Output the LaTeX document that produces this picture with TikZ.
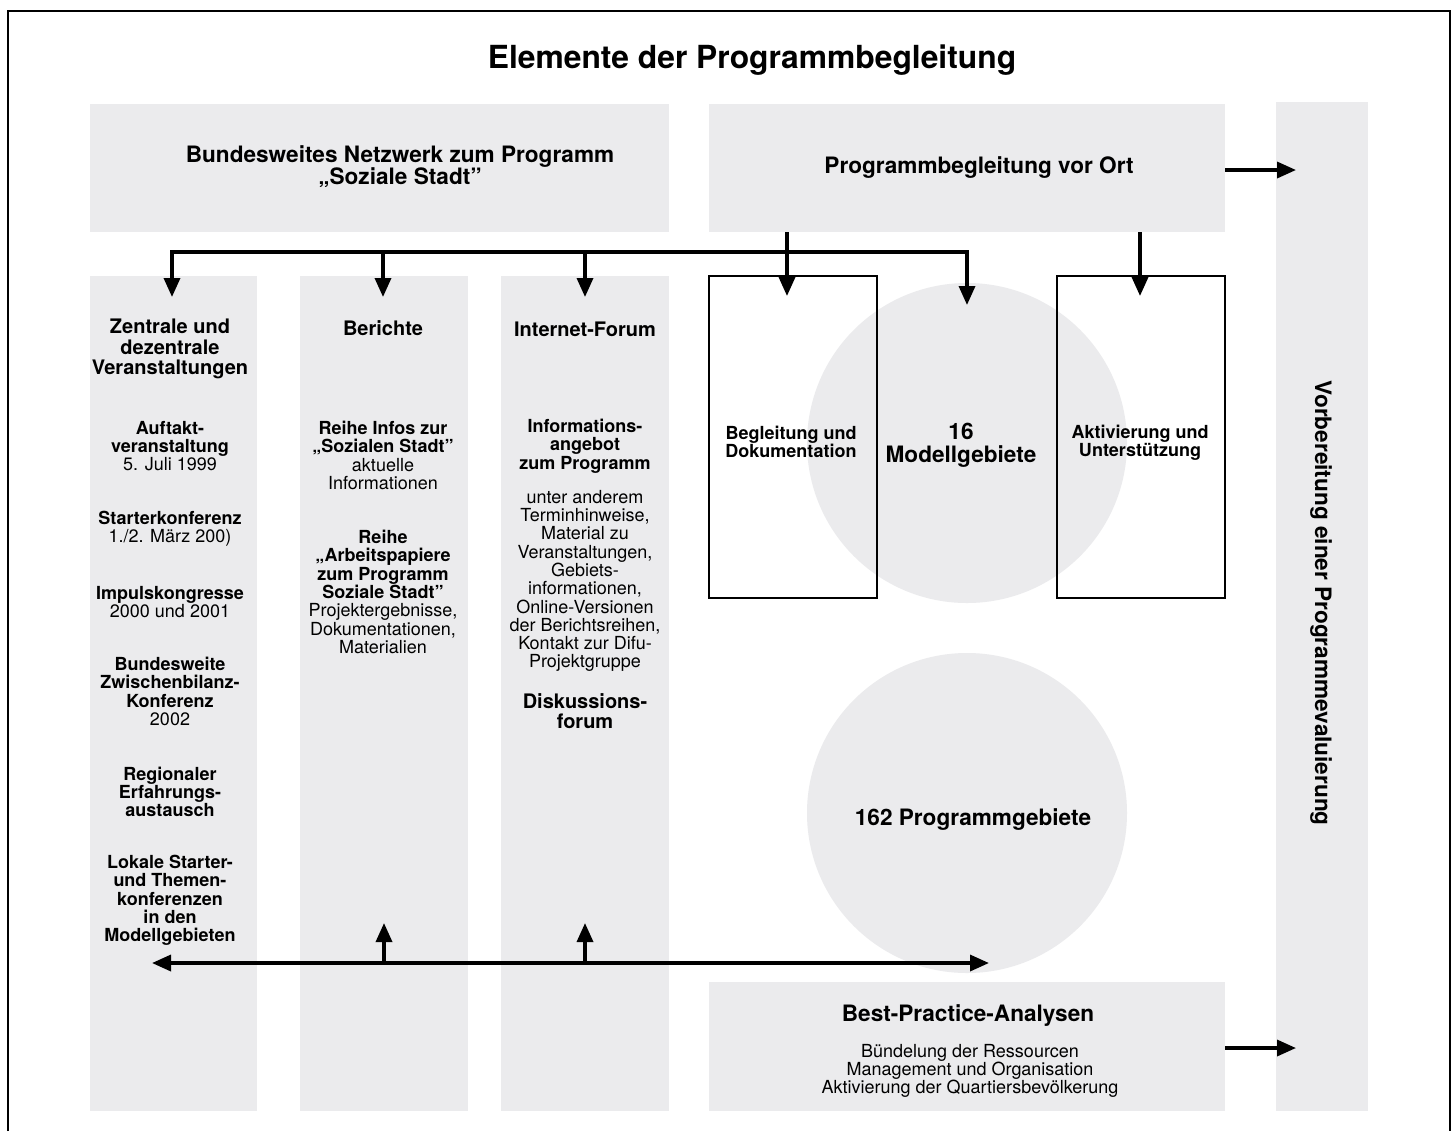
\documentclass[tikz,border=0pt]{standalone}
\usepackage{fontspec}
\setmainfont{TeX Gyre Heros}
\usetikzlibrary{arrows.meta}
\definecolor{hellgrau}{HTML}{EBEBED}
\tikzset{
	grau/.style={fill=hellgrau, inner sep=0pt, outer sep=0pt},
	rahmen/.style={draw=black, line width=1pt, inner sep=0pt, outer sep=0pt},
	titel/.style={font=\bfseries\fontsize{15.9}{18}\selectfont},
	gross/.style={font=\bfseries\fontsize{11.3}{11}\selectfont, align=center, inner sep=0pt},
	kopf/.style={font=\bfseries\fontsize{10}{10.25}\selectfont, align=center, inner sep=0pt},
	fett/.style={font=\bfseries\fontsize{9}{9.15}\selectfont, align=center, inner sep=0pt},
	normal/.style={font=\fontsize{9}{9.15}\selectfont, align=center, inner sep=0pt},
	pfeil/.style={line width=1.7pt, -{Triangle[length=9.5pt,width=8pt]}},
	doppelpfeil/.style={line width=1.7pt, {Triangle[length=9.5pt,width=8pt]}-{Triangle[length=9.5pt,width=8pt]}}
}

\begin{document}
\begin{tikzpicture}[x=0.5pt, y=-0.5pt]
			%%%%% START %%%%%
			
			\fill[white] (0, 0) rectangle (1455, 1131);
			\useasboundingbox (0, 0) rectangle (1455, 1131);
			\draw[line width=1.2pt] (8, 1131) -- (8, 11) -- (1450, 11) -- (1450, 1131);
			
			\node[titel] (titel) at (752, 60) {Elemente der Programmbegleitung};
			
			% obere Kaesten
			\node[grau, minimum width=289.5pt, minimum height=64pt] (netz) at (379.5, 168) {};
			\node[gross] (netz-text) at (400, 166.5) {Bundesweites Netzwerk zum Programm\\„Soziale Stadt”};
			\node[grau, minimum width=258pt, minimum height=64pt] (ort) at (967, 168) {};
			\node[gross] (ort-text) at (979, 168) {Programmbegleitung vor Ort};
			
			\node[grau, minimum width=46pt, minimum height=504.5pt] (eval) at (1322, 606.5) {};
			\node[gross, rotate=-90] (eval-text) at (1321, 603) {Vorbereitung einer Programmevaluierung};
			
			% Spalten
			\node[grau, minimum width=83.5pt, minimum height=417.5pt] (spalte1) at (173.5, 693.5) {};
			\node[grau, minimum width=84pt, minimum height=417.5pt] (spalte2) at (384, 693.5) {};
			\node[grau, minimum width=84pt, minimum height=417.5pt] (spalte3) at (585, 693.5) {};
			
			\node[kopf] (veranst) at (170, 349) {Zentrale und\\dezentrale\\Veranstaltungen};
			\node[fett] (auftakt) at (170, 446) {Auftakt-\\veranstaltung\\\textmd{5. Juli 1999}};
			\node[fett] (starter) at (170, 529) {Starterkonferenz\\\textmd{1./2. März 200)}};
			\node[fett] (impuls) at (170, 602) {Impulskongresse\\\textmd{2000 und 2001}};
			\node[fett] (bilanz) at (170, 691.5) {Bundesweite\\Zwischenbilanz-\\Konferenz\\\textmd{2002}};
			\node[fett] (regional) at (170, 792) {Regionaler\\Erfahrungs-\\austausch};
			\node[fett] (lokal) at (170, 900.5) {Lokale Starter-\\und Themen-\\konferenzen\\in den\\Modellgebieten};
			
			\node[kopf] (berichte) at (383, 328) {Berichte};
			\node[fett] (infos) at (383, 455.5) {Reihe Infos zur\\„Sozialen Stadt”\\\textmd{aktuelle}\\\textmd{Informationen}};
			\node[fett] (papiere) at (383, 592) {Reihe\\„Arbeitspapiere\\zum Programm\\Soziale Stadt”\\\textmd{Projektergebnisse,}\\\textmd{Dokumentationen,}\\\textmd{Materialien}};
			
			\node[kopf] (forum) at (585, 329) {Internet-Forum};
			\node[fett] (angebot) at (585, 446) {Informations-\\angebot\\zum Programm};
			\node[normal] (inhalte) at (585, 581) {unter anderem\\Terminhinweise,\\Material zu\\Veranstaltungen,\\Gebiets-\\informationen,\\Online-Versionen\\der Berichtsreihen,\\Kontakt zur Difu-\\Projektgruppe};
			\node[kopf, font=\bfseries\fontsize{10}{10}\selectfont] (diskussion) at (585, 711.5) {Diskussions-\\forum};
			
			% Modellgebiete
			\node[grau, circle, minimum size=160pt] (modell) at (967, 443) {};
			\node[rahmen, minimum width=84pt, minimum height=161pt] (begl) at (793, 437) {};
			\node[rahmen, minimum width=84pt, minimum height=161pt] (aktiv) at (1141, 437) {};
			\node[fett, font=\bfseries\fontsize{9}{9}\selectfont] (begl-text) at (791, 442) {Begleitung und\\Dokumentation};
			\node[gross, font=\bfseries\fontsize{11.3}{11.5}\selectfont] (modell-text) at (961, 445.5) {16\\Modellgebiete};
			\node[fett, font=\bfseries\fontsize{9}{9}\selectfont] (aktiv-text) at (1140, 443) {Aktivierung und\\Unterstützung};
			
			\node[grau, circle, minimum size=160pt] (gebiete) at (967, 813) {};
			\node[gross] (gebiete-text) at (973, 820) {162 Programmgebiete};
			
			\node[grau, minimum width=258pt, minimum height=64.5pt] (best) at (967, 1046.5) {};
			\node[gross] (best-text) at (968, 1016) {Best-Practice-Analysen};
			\node[normal, font=\fontsize{9}{9}\selectfont] (best-liste) at (970, 1071) {Bündelung der Ressourcen\\Management und Organisation\\Aktivierung der Quartiersbevölkerung};
			
			% Pfeile
			\coordinate (ast-l) at (172, 252);
			\coordinate (ast-r) at (967, 252);
			\coordinate (s1) at (172, 297);
			\coordinate (s2) at (383, 297);
			\coordinate (s3) at (585, 297);
			\coordinate (s4) at (967, 305);
			\coordinate (s5) at (787, 296);
			\coordinate (s6) at (1140, 296);
			\coordinate (e1) at (1296, 170);
			\coordinate (e2) at (1296, 1048);
			
			\draw[doppelpfeil] (s1) -- (ast-l) -- (ast-r) -- (s4);
			\draw[pfeil] (s2 |- ast-l) -- (s2);
			\draw[pfeil] (s3 |- ast-l) -- (s3);
			\draw[pfeil] (ort.south -| s5) -- (s5);
			\draw[pfeil] (ort.south -| s6) -- (s6);
			\draw[pfeil] (ort.east |- e1) -- (e1);
			\draw[pfeil] (best.east |- e2) -- (e2);
			
			\coordinate (u-l) at (152, 963);
			\coordinate (u-r) at (989, 963);
			\coordinate (h2) at (384, 923);
			\coordinate (h3) at (585, 923);
			
			\draw[doppelpfeil] (u-l) -- (u-r);
			\draw[pfeil] (h2 |- u-l) -- (h2);
			\draw[pfeil] (h3 |- u-l) -- (h3);
			
			%%%%% END %%%%%
\end{tikzpicture}
\end{document}
